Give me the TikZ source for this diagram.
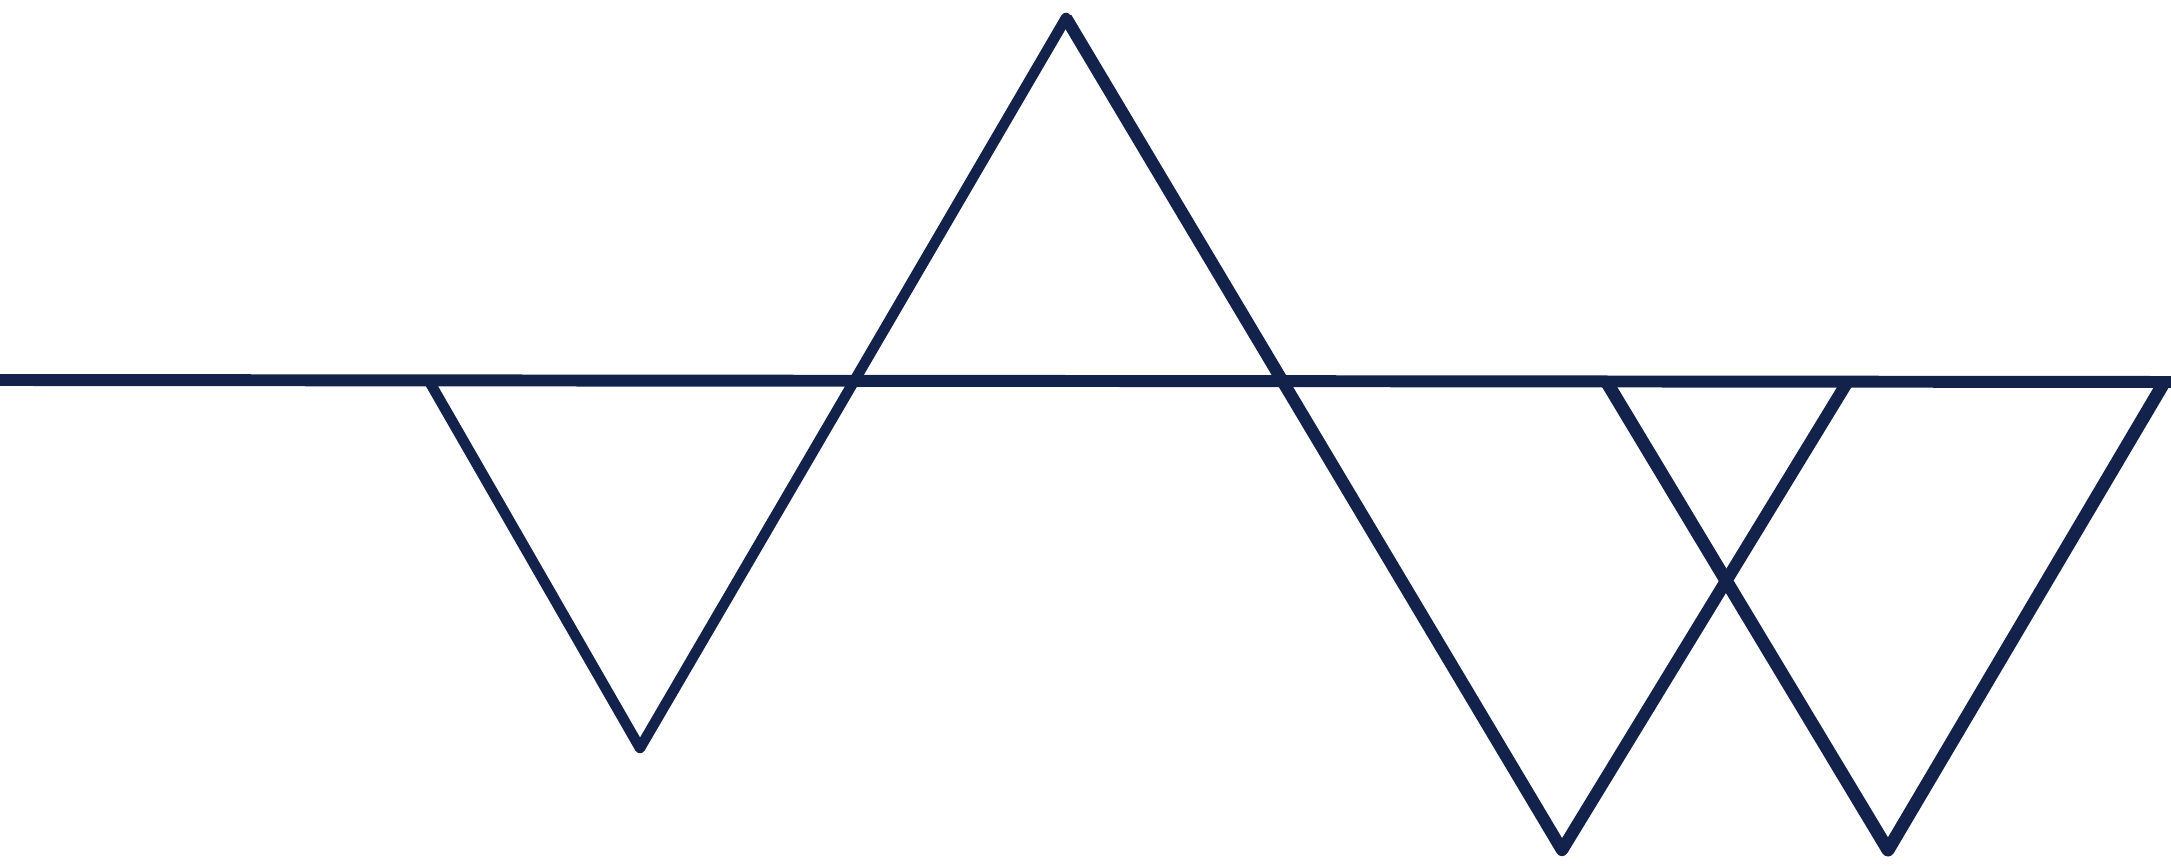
\documentclass[tikz,border=0pt]{standalone}
\usepackage{tikz}
\usetikzlibrary{calc}

\definecolor{navy}{RGB}{19,34,74}

\begin{document}
\begin{tikzpicture}[
    wave/.style={draw=navy, line width=3pt, line join=round},
    wavethick/.style={wave, line width=3.7pt},
    base/.style={draw=navy, line width=3.4pt}
]
\useasboundingbox (0,0) rectangle (21.71,8.66);
% points of the zigzag
\coordinate (l) at (0,4.86);
\coordinate (r) at (21.71,4.84);
\coordinate (a) at (4.29,4.85);
\coordinate (b) at (6.40,1.18);
\coordinate (c) at (10.66,8.48);
\coordinate (d) at (15.62,0.16);
\coordinate (e) at (18.48,4.85);
\coordinate (f) at (16.06,4.85);
\coordinate (g) at (18.88,0.16);
\coordinate (h) at (21.65,4.85);

\draw[base] (l) -- (r);
\draw[wave] (a) -- (b) -- (c) -- (d) -- (e);
\draw[wave, line width=3.5pt] (c) -- (d) -- (e);
\draw[wavethick] (f) -- (g) -- (h);
\end{tikzpicture}
\end{document}
